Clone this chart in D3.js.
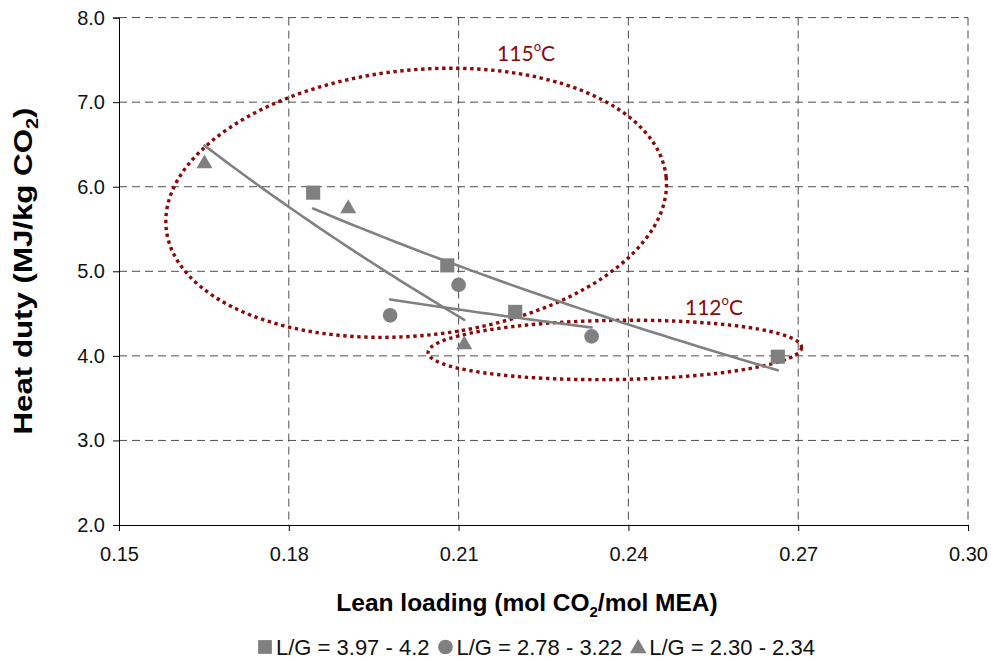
<!DOCTYPE html>
<html><head><meta charset="utf-8">
<script src="https://cdn.jsdelivr.net/npm/d3@7/dist/d3.min.js"></script>
<style>html,body{margin:0;padding:0;background:#fff}</style>
</head><body>
<svg id="chart" width="991" height="661"></svg>
<script>
// ---- data ----
const xTicks = [0.15, 0.18, 0.21, 0.24, 0.27, 0.30];
const yTicks = [2.0, 3.0, 4.0, 5.0, 6.0, 7.0, 8.0];
const seriesNames = ["L/G = 3.97 - 4.2", "L/G = 2.78 - 3.22", "L/G = 2.30 - 2.34"];
const seriesShapes = ["square", "circle", "triangle"];
const squareX = [0.1843, 0.2080, 0.2200, 0.2664];
const squareY = [5.93, 5.07, 4.52, 3.99];
const circleX = [0.1979, 0.2100, 0.2335];
const circleY = [4.48, 4.84, 4.23];
const triangleX = [0.1651, 0.1905, 0.2110];
const triangleY = [6.29, 5.76, 4.15];
// temperature annotations (ellipse centres / radii in data units, tilt in degrees)
const annotLabels = ["115", "112"];
const annotCx = [0.2025, 0.2376];
const annotCy = [5.81, 4.07];
const annotRx = [0.0444, 0.0330];
const annotRy = [1.57, 0.35];
const annotTilt = [-5.9, -0.8];
const annotTextX = [0.2168, 0.2500];
const annotTextY = [7.49, 4.485];

const xData = [squareX, circleX, triangleX];
const yData = [squareY, circleY, triangleY];

// ---- layout ----
const svg = d3.select("#chart");
const L = 119, R = 968, T = 17.6, B = 525;
const x = d3.scaleLinear().domain([0.15, 0.30]).range([L, R]);
const y = d3.scaleLinear().domain([2, 8]).range([B, T]);
const grey = "#808080";
const red = "#8a0a0a";
const font = "'Liberation Sans', Arial, sans-serif";

// gridlines
const grid = svg.append("g");
grid.selectAll("line.v").data(xTicks.slice(1)).join("line")
  .attr("x1", d => x(d)).attr("x2", d => x(d)).attr("y1", T).attr("y2", B)
  .attr("stroke", "#4d4d4d").attr("stroke-width", 1).attr("stroke-dasharray", "8,5");
grid.selectAll("line.h").data(yTicks.slice(1)).join("line")
  .attr("x1", L).attr("x2", R).attr("y1", d => y(d)).attr("y2", d => y(d))
  .attr("stroke", "#4d4d4d").attr("stroke-width", 1).attr("stroke-dasharray", "8,5");

// axes
const yAxis = svg.append("g").attr("transform", `translate(${L},0)`)
  .call(d3.axisLeft(y).tickValues(yTicks).tickFormat(d3.format(".1f")).tickSize(6).tickPadding(8));
const xAxis = svg.append("g").attr("transform", `translate(0,${B})`)
  .call(d3.axisBottom(x).tickValues(xTicks).tickFormat(d3.format(".2f")).tickSize(6).tickPadding(16));
[xAxis, yAxis].forEach(g => {
  g.select(".domain").attr("stroke", "#000").attr("stroke-width", 1);
  g.selectAll(".tick line").attr("stroke", "#000");
  g.selectAll("text").attr("font-family", font).attr("font-size", 20).attr("fill", "#111");
});

// ellipses + labels
annotLabels.forEach((lab, i) => {
  const cx = x(annotCx[i]), cy = y(annotCy[i]);
  const rx = x(annotCx[i] + annotRx[i]) - cx;
  const ry = cy - y(annotCy[i] + annotRy[i]);
  svg.append("ellipse").attr("cx", cx).attr("cy", cy).attr("rx", rx).attr("ry", ry)
    .attr("transform", `rotate(${annotTilt[i]},${cx},${cy})`)
    .attr("fill", "none").attr("stroke", red).attr("stroke-width", 3.4)
    .attr("stroke-dasharray", "3.4,3.6");
  const t = svg.append("text").attr("x", x(annotTextX[i])).attr("y", y(annotTextY[i]))
    .attr("font-family", "Lato, 'Open Sans', sans-serif").attr("font-size", 21).attr("fill", red);
  t.append("tspan").text(lab);
  t.append("tspan").attr("font-size", 13).attr("dy", -10).text("o");
  t.append("tspan").attr("dy", 10).text("C");
});

// log trendlines
function logFit(xs, ys) {
  const lx = xs.map(Math.log);
  const mx = d3.mean(lx), my = d3.mean(ys);
  const b = d3.sum(lx.map((v, k) => (v - mx) * (ys[k] - my))) / d3.sum(lx.map(v => (v - mx) ** 2));
  const a = my - b * mx;
  return v => a + b * Math.log(v);
}
const line = d3.line().x(d => x(d[0])).y(d => y(d[1]));
xData.forEach((xs, i) => {
  const f = logFit(xs, yData[i]);
  const [x0, x1] = d3.extent(xs);
  const pts = d3.range(0, 41).map(k => { const v = x0 + (x1 - x0) * k / 40; return [v, f(v)]; });
  svg.append("path").attr("d", line(pts)).attr("fill", "none")
    .attr("stroke", grey).attr("stroke-width", 2.6).attr("stroke-linecap", "round");
});

// markers
const sym = {
  square: d3.symbol().type(d3.symbolSquare).size(200),
  circle: d3.symbol().type(d3.symbolCircle).size(170),
  triangle: d3.symbol().type(d3.symbolTriangle).size(110)
};
xData.forEach((xs, i) => {
  svg.append("g").selectAll("path").data(xs.map((v, k) => [v, yData[i][k]])).join("path")
    .attr("d", sym[seriesShapes[i]]())
    .attr("transform", d => `translate(${x(d[0])},${y(d[1]) + (seriesShapes[i] === "triangle" ? 1.5 : 0)})`)
    .attr("fill", grey);
});

// axis titles
const yt = svg.append("text").attr("transform", `translate(32,271) rotate(-90) scale(1.25,1)`)
  .attr("text-anchor", "middle").attr("font-family", font).attr("font-weight", "bold")
  .attr("font-size", 25).attr("fill", "#000");
yt.append("tspan").text("Heat duty (MJ/kg CO");
yt.append("tspan").attr("font-size", 16).attr("dy", 6).text("2");
yt.append("tspan").attr("dy", -6).text(")");

const xt = svg.append("text").attr("x", 527).attr("y", 611)
  .attr("text-anchor", "middle").attr("font-family", font).attr("font-weight", "bold")
  .attr("font-size", 24.5).attr("fill", "#000");
xt.append("tspan").text("Lean loading (mol CO");
xt.append("tspan").attr("font-size", 15).attr("dy", 6).text("2");
xt.append("tspan").attr("dy", -6).text("/mol MEA)");

// legend
const leg = svg.append("g");
const legSym = {
  square: d3.symbol().type(d3.symbolSquare).size(190),
  circle: d3.symbol().type(d3.symbolCircle).size(170),
  triangle: d3.symbol().type(d3.symbolTriangle).size(120)
};
let lx = 265;
seriesNames.forEach((name, i) => {
  leg.append("path").attr("d", legSym[seriesShapes[i]]())
    .attr("transform", `translate(${lx},${647 + (seriesShapes[i] === "triangle" ? 1.5 : 0)})`).attr("fill", grey);
  const t = leg.append("text").attr("x", lx + 11).attr("y", 655)
    .attr("font-family", font).attr("font-size", 22).attr("fill", "#111").text(name);
  lx += 11 + t.node().getComputedTextLength() + 16;
});
</script>
</body></html>
